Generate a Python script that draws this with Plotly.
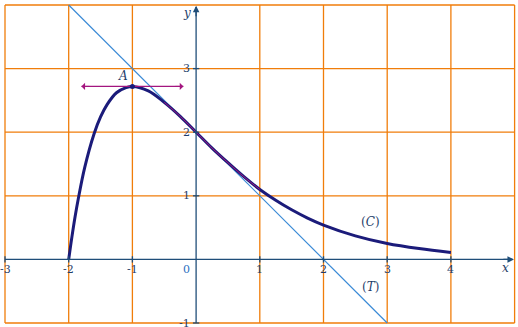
import plotly.graph_objects as go

# Curve (C) values
curve_x = [-2, -1.95, -1.9, -1.85, -1.75, -1.6, -1.5, -1.4, -1.25, -1.1, -1, -0.75, -0.5, -0.25,
           0, 0.25, 0.5, 0.75, 1, 1.25, 1.5, 1.75, 2, 2.5, 3, 3.5, 4]
curve_y = [0, 0.35, 0.67, 0.95, 1.44, 1.98, 2.24, 2.43, 2.62, 2.70, 2.72, 2.65, 2.47, 2.25,
           2.0, 1.75, 1.52, 1.30, 1.10, 0.93, 0.78, 0.65, 0.54, 0.37, 0.25, 0.17, 0.11]
# Tangent (T)
tan_x = [-2, 3]
tan_y = [4, -1]
# Point A and horizontal tangent
A_x, A_y = -1, 2.72
htan_x = [-1.8, -0.2]

x_ticks = [-3, -2, -1, 1, 2, 3, 4]
y_ticks = [1, 2, 3]
y_neg = [-1]

ORANGE = "#F07D0A"
AXIS = "#1F4E79"
NAVY = "#1B1B7A"
LBLUE = "#3A8AD6"
MAG = "#A3157F"
TXT = "#1F3E6A"
FONT = "DejaVu Serif"

sx = 63.7
sy = 63.6
x0 = -3 - 5 / sx
x1 = x0 + 518 / sx
y1 = 4 + 5 / sy
y0 = y1 - 327 / sy

fig = go.Figure()
shapes = []
# grid
for gx in [-3, -2, -1, 1, 2, 3, 4, 5]:
    shapes.append(dict(type="line", x0=gx, x1=gx, y0=-1, y1=4, line=dict(color=ORANGE, width=1.3), layer="below"))
for gy in [-1, 1, 2, 3, 4]:
    shapes.append(dict(type="line", x0=-3, x1=5, y0=gy, y1=gy, line=dict(color=ORANGE, width=1.3), layer="below"))
# axes
shapes.append(dict(type="line", x0=-3, x1=4.97, y0=0, y1=0, line=dict(color=AXIS, width=1.3)))
shapes.append(dict(type="line", x0=0, x1=0, y0=-1, y1=3.97, line=dict(color=AXIS, width=1.3)))
# ticks
for t in x_ticks:
    shapes.append(dict(type="line", x0=t, x1=t, y0=-0.05, y1=0.05, line=dict(color=AXIS, width=1.3)))
for t in y_ticks + y_neg:
    shapes.append(dict(type="line", x0=-0.05, x1=0.05, y0=t, y1=t, line=dict(color=AXIS, width=1.3)))

fig.add_trace(go.Scatter(x=tan_x, y=tan_y, mode="lines", line=dict(color=LBLUE, width=1.2)))
fig.add_trace(go.Scatter(x=curve_x, y=curve_y, mode="lines", line=dict(color=NAVY, width=3, shape="spline")))
mx = [x for x in curve_x if -0.5 <= x <= 1]
my = [y for x, y in zip(curve_x, curve_y) if -0.5 <= x <= 1]
fig.add_trace(go.Scatter(x=mx, y=my, mode="lines", line=dict(color=MAG, width=1, shape="spline")))
fig.add_trace(go.Scatter(x=htan_x, y=[A_y, A_y], mode="lines", line=dict(color=MAG, width=1.3)))
fig.add_trace(go.Scatter(x=[A_x], y=[A_y], mode="markers", marker=dict(color=NAVY, size=5)))

ann = []
# arrows on horizontal tangent
ann.append(dict(x=htan_x[0], y=A_y, ax=htan_x[0] + 0.15, ay=A_y, axref="x", ayref="y", xref="x", yref="y",
                text="", showarrow=True, arrowhead=1, arrowsize=1.2, arrowwidth=1, arrowcolor=MAG))
ann.append(dict(x=htan_x[1], y=A_y, ax=htan_x[1] - 0.15, ay=A_y, axref="x", ayref="y", xref="x", yref="y",
                text="", showarrow=True, arrowhead=1, arrowsize=1.2, arrowwidth=1, arrowcolor=MAG))
# axis arrows
ann.append(dict(x=4.99, y=0, ax=4.8, ay=0, axref="x", ayref="y", text="", showarrow=True,
                arrowhead=2, arrowsize=1, arrowwidth=1.3, arrowcolor=AXIS))
ann.append(dict(x=0, y=3.99, ax=0, ay=3.8, axref="x", ayref="y", text="", showarrow=True,
                arrowhead=2, arrowsize=1, arrowwidth=1.3, arrowcolor=AXIS))
f = dict(family=FONT, size=11, color=TXT)
for t in x_ticks:
    ann.append(dict(x=t, y=-0.16, text=str(t), showarrow=False, font=f))
ann.append(dict(x=-0.15, y=-0.16, text="0", showarrow=False, font=dict(family=FONT, size=11, color="#2A6FC0")))
for t in y_ticks + y_neg:
    ann.append(dict(x=-0.06, y=t, text=str(t), showarrow=False, xanchor="right", font=f))
fi = dict(family=FONT, size=12, color=TXT)
ann.append(dict(x=-1.15, y=2.89, text="<i>A</i>", showarrow=False, font=fi))
ann.append(dict(x=2.73, y=0.59, text="(<i>C</i>)", showarrow=False, font=fi))
ann.append(dict(x=2.73, y=-0.43, text="(<i>T</i>)", showarrow=False, font=fi))
ann.append(dict(x=4.85, y=-0.14, text="<i>x</i>", showarrow=False, font=fi))
ann.append(dict(x=-0.15, y=3.87, text="<i>y</i>", showarrow=False, font=fi))

fig.update_layout(
    width=518, height=327, margin=dict(l=0, r=0, t=0, b=0),
    paper_bgcolor="white", plot_bgcolor="white", showlegend=False,
    xaxis=dict(range=[x0, x1], visible=False, fixedrange=True),
    yaxis=dict(range=[y0, y1], visible=False, fixedrange=True),
    shapes=shapes, annotations=ann,
)
fig.write_html("out.html", config={"displayModeBar": False})
